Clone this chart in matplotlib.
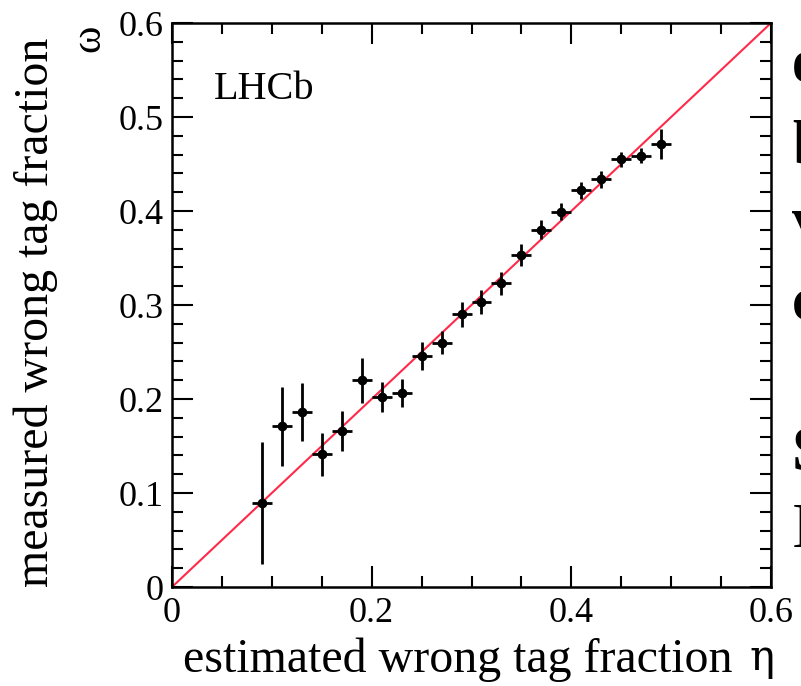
import matplotlib
matplotlib.use("Agg")
import matplotlib.pyplot as plt
import numpy as np
from matplotlib.ticker import MultipleLocator

# estimated wrong tag fraction (bin centres) and measured values
eta = [0.09, 0.11, 0.13, 0.15, 0.17, 0.19, 0.21, 0.23, 0.25, 0.27, 0.29,
       0.31, 0.33, 0.35, 0.37, 0.39, 0.41, 0.43, 0.45, 0.47, 0.49]
omega = [0.089, 0.171, 0.186, 0.141, 0.166, 0.220, 0.202, 0.206, 0.246, 0.260, 0.290,
         0.303, 0.323, 0.353, 0.380, 0.399, 0.422, 0.434, 0.455, 0.459, 0.471]
omega_err = [0.065, 0.042, 0.031, 0.023, 0.021, 0.024, 0.016, 0.015, 0.015, 0.012, 0.013,
             0.013, 0.012, 0.012, 0.010, 0.009, 0.009, 0.009, 0.008, 0.008, 0.016]
eta_err = [0.01] * len(eta)

line_x = [0.0, 0.6]

# clipped letters of neighbouring slide text (right edge)
side_letters = ["e", "b", "v", "c", "S", "I"]
side_baselines = [82, 163, 240, 320, 470, 547]
side_bold = [True, True, True, True, True, False]

W, H = 801, 686
serif = ["Liberation Serif", "DejaVu Serif"]
plt.rcParams["font.family"] = serif

fig = plt.figure(figsize=(W / 100, H / 100), dpi=100)
ax = fig.add_axes([172 / W, 1 - 587 / H, (771 - 172) / W, (587 - 23) / H])

ax.plot(line_x, line_x, color="#ff2a4a", lw=1.5, zorder=2)
ax.errorbar(eta, omega, yerr=omega_err, xerr=eta_err, fmt="o", color="black",
            ms=6, elinewidth=2, capsize=0, zorder=3)

ax.set_xlim(0, 0.6)
ax.set_ylim(0, 0.6)
ax.xaxis.set_major_locator(MultipleLocator(0.2))
ax.xaxis.set_minor_locator(MultipleLocator(0.05))
ax.yaxis.set_major_locator(MultipleLocator(0.1))
ax.yaxis.set_minor_locator(MultipleLocator(0.02))
ax.set_xticks([0, 0.2, 0.4, 0.6], ["0", "0.2", "0.4", "0.6"])
ax.set_yticks([0, 0.1, 0.2, 0.3, 0.4, 0.5, 0.6], ["0", "0.1", "0.2", "0.3", "0.4", "0.5", "0.6"])
ax.tick_params(which="both", direction="in", top=True, right=True, width=1.5,
               labelsize=26, colors="black")
ax.tick_params(which="major", length=15, pad=7)
ax.tick_params(which="minor", length=8)
ax.tick_params(axis="y", which="major", pad=6)
for s in ax.spines.values():
    s.set_linewidth(1.8)

ax.text(0.07, 0.915, "LHCb", transform=ax.transAxes, fontsize=29, va="top", ha="left")

fig.text(183 / W, 1 - 672 / H, "estimated wrong tag fraction", fontsize=34.5,
         ha="left", va="baseline")
fig.text(762 / W, 1 - 670 / H, "η", fontsize=30, ha="center", va="baseline",
         family=["DejaVu Serif"])
fig.text(36 / W, 1 - 312 / H, "measured wrong tag fraction", fontsize=34.5,
         rotation=90, ha="center", va="center")
fig.text(89 / W, 1 - 38 / H, "ω", fontsize=30, rotation=90, ha="center", va="center")

for letter, base, bold in zip(side_letters, side_baselines, side_bold):
    fig.text(792 / W, 1 - base / H, letter, fontsize=46,
             fontweight="bold" if bold else "normal", ha="left", va="baseline")

fig.savefig("out.png", dpi=100)
